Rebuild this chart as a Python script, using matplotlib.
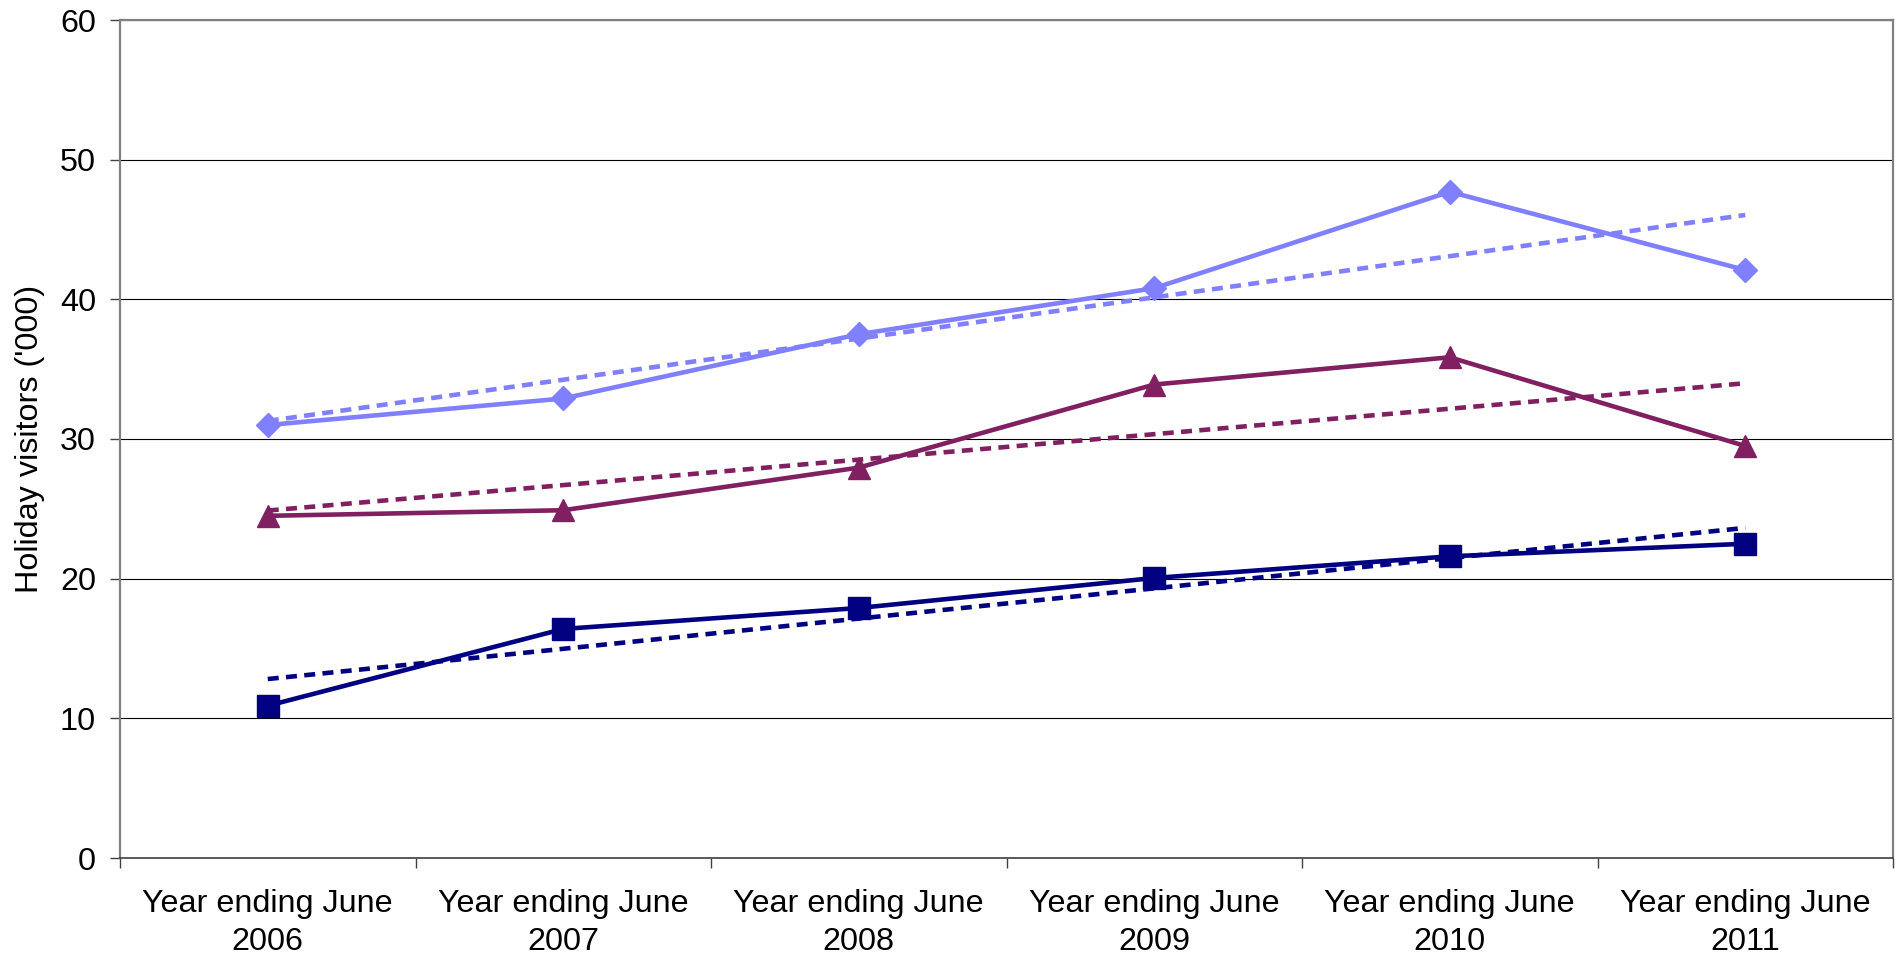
import numpy as np
import matplotlib
matplotlib.use("Agg")
import matplotlib.pyplot as plt
from matplotlib.ticker import FixedLocator, NullFormatter

# values ('000 holiday visitors)
years = ["2006", "2007", "2008", "2009", "2010", "2011"]
light_blue = [31.0, 32.9, 37.5, 40.8, 47.7, 42.1]
purple = [24.5, 24.9, 27.95, 33.9, 35.85, 29.5]
navy = [10.9, 16.4, 17.9, 20.05, 21.6, 22.5]

plt.rcParams["font.family"] = ["Liberation Sans", "DejaVu Sans"]

fig = plt.figure(figsize=(19.04, 9.68), dpi=100)
ax = fig.add_axes([120 / 1904, 110 / 968, (1893 - 120) / 1904, (858 - 20) / 968])

x = np.arange(len(years))
lw = 3.3
fs = 23.3

series = [
    (light_blue, "#8080FF", "D", 12),
    (purple, "#802060", "^", 16),
    (navy, "#000080", "s", 15.5),
]

for vals, col, mk, ms in series:
    ax.plot(x, vals, color=col, lw=lw, marker=mk, markersize=ms,
            markeredgecolor=col, markerfacecolor=col, zorder=3)
    # linear trendline like excel
    slope, icpt = np.polyfit(x, vals, 1)
    ax.plot(x, slope * x + icpt, color=col, lw=lw, dashes=(2.4, 1.6),
            zorder=2)

ax.set_xlim(-0.5, len(years) - 0.5)
ax.set_ylim(0, 60)
ax.set_yticks(range(0, 61, 10))
ax.yaxis.grid(True, color="black", lw=0.8)
ax.set_axisbelow(True)

# ticks on category borders, labels at category centres
ax.xaxis.set_major_locator(FixedLocator(np.arange(-0.5, len(years), 1.0)))
ax.xaxis.set_major_formatter(NullFormatter())
ax.xaxis.set_minor_locator(FixedLocator(x))
ax.set_xticklabels(["Year ending June\n" + y for y in years], minor=True,
                   linespacing=1.38)
ax.tick_params(axis="x", which="major", direction="out", length=7.2,
               width=1, color="#404040")
ax.tick_params(axis="x", which="minor", length=0, pad=22, labelsize=fs)
ax.tick_params(axis="y", direction="out", length=7.2, width=1,
               color="#404040", pad=10, labelsize=fs)

ax.set_ylabel("Holiday visitors ('000)", fontsize=fs, labelpad=11)

for side in ("left", "right", "top"):
    ax.spines[side].set_color("#808080")
    ax.spines[side].set_linewidth(1.6)
ax.spines["bottom"].set_color("#404040")
ax.spines["bottom"].set_linewidth(1.2)

fig.savefig("out.png", dpi=100)
